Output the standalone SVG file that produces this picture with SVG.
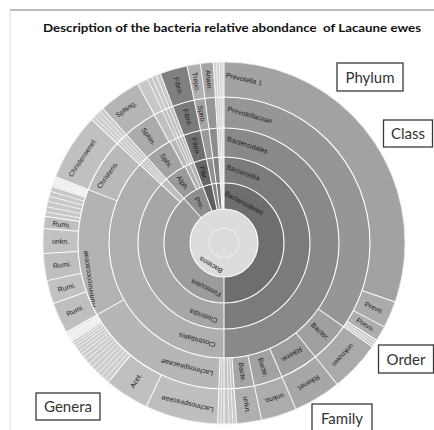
<svg xmlns="http://www.w3.org/2000/svg" width="434" height="430" viewBox="0 0 434 430">
<style>
.a{fill:none}
.r1{stroke-width:26px}.r2{stroke-width:26px}.r3{stroke-width:29px}.r4{stroke-width:31px}.r5{stroke-width:35px}
.t{font-family:"Liberation Sans",Arial,sans-serif;font-size:7px;fill:#1c1c1c;text-anchor:middle}
.s{stroke:#fff;stroke-width:1}
.ss{stroke:#fff;stroke-width:0.7}
.ring{fill:none;stroke:#fff;stroke-width:1.1}
.box rect{fill:#fff;stroke:#3a3a3a;stroke-width:1.3}
.box text{font-family:Lato,"Open Sans",sans-serif;font-size:15px;fill:#333;text-anchor:middle}
</style>
<rect width="434" height="430" fill="#fff"/>
<line x1="10" y1="10" x2="434" y2="10" stroke="#7a7a7a" stroke-width="1.2"/>
<line x1="10" y1="10" x2="10" y2="430" stroke="#dadada" stroke-width="1"/>
<text x="43" y="32" font-family="Lato,'Liberation Sans',sans-serif" font-weight="bold" font-size="11.5" fill="#111" textLength="378" lengthAdjust="spacingAndGlyphs">Description of the bacteria relative abondance&#160; of Lacaune ewes</text>

<g id="root-bacteria">
<circle cx="224" cy="243" r="34" fill="#dcdcdc"/>
<circle cx="224" cy="243" r="15" fill="none" stroke="#f4f4f4" stroke-width="1"/>
<text class="t" dy="2.4" transform="translate(211 265) rotate(211)">Bacteria</text>
</g>

<!-- Ring 1: phylum -->
<g id="p-bacteroidetes"><circle class="a r1" cx="224" cy="243" r="47" transform="rotate(-90 224 243)" pathLength="360" stroke="#6e6e6e" stroke-dasharray="180.5 360" stroke-dashoffset="0"/><text class="t" dy="2.4" transform="translate(244 203) rotate(28)">Bacteroidetes</text></g>
<g id="p-firmicutes"><circle class="a r1" cx="224" cy="243" r="47" transform="rotate(-90 224 243)" pathLength="360" stroke="#9c9c9c" stroke-dasharray="138.3 360" stroke-dashoffset="-180"/><text class="t" dy="2.4" transform="translate(206 288) rotate(205)">Firmicutes</text></g>
<g id="p-proteobacteria"><circle class="a r1" cx="224" cy="243" r="47" transform="rotate(-90 224 243)" pathLength="360" stroke="#8e8e8e" stroke-dasharray="21.7 360" stroke-dashoffset="-318"/><text class="t" dy="2.4" transform="translate(199.4 202.9) rotate(58.5)">Pro.</text></g>
<g id="p-fibrobacteres"><circle class="a r1" cx="224" cy="243" r="47" transform="rotate(-90 224 243)" pathLength="360" stroke="#5f5f5f" stroke-dasharray="9.1 360" stroke-dashoffset="-339.4"/></g>
<g id="p-spirochaetes"><circle class="a r1" cx="224" cy="243" r="47" transform="rotate(-90 224 243)" pathLength="360" stroke="#858585" stroke-dasharray="4.6 360" stroke-dashoffset="-348.2"/></g>
<g id="p-tenericutes"><circle class="a r1" cx="224" cy="243" r="47" transform="rotate(-90 224 243)" pathLength="360" stroke="#7a7a7a" stroke-dasharray="4.4 360" stroke-dashoffset="-352.5"/></g>
<g id="p-other"><circle class="a r1" cx="224" cy="243" r="47" transform="rotate(-90 224 243)" pathLength="360" stroke="#b8b8b8" stroke-dasharray="3.4 360" stroke-dashoffset="-356.6"/></g>

<!-- Ring 2: class -->
<g id="c-bacteroidia"><circle class="a r2" cx="224" cy="243" r="73" transform="rotate(-90 224 243)" pathLength="360" stroke="#7b7b7b" stroke-dasharray="180.5 360" stroke-dashoffset="0"/><text class="t" dy="2.4" transform="translate(243 172.5) rotate(20)">Bacteroidia</text></g>
<g id="c-clostridia"><circle class="a r2" cx="224" cy="243" r="73" transform="rotate(-90 224 243)" pathLength="360" stroke="#a6a6a6" stroke-dasharray="133.3 360" stroke-dashoffset="-180"/><text class="t" dy="2.4" transform="translate(203.5 316) rotate(200)">Clostridia</text></g>
<g id="c-firm-other"><circle class="a r2" cx="224" cy="243" r="73" transform="rotate(-90 224 243)" pathLength="360" stroke="#bdbdbd" stroke-dasharray="5.3 360" stroke-dashoffset="-313"/></g>
<g id="c-alpha"><circle class="a r2" cx="224" cy="243" r="73" transform="rotate(-90 224 243)" pathLength="360" stroke="#9a9a9a" stroke-dasharray="15.3 360" stroke-dashoffset="-318"/><text class="t" dy="2.4" transform="translate(182.7 182.8) rotate(55.5)">Alph.</text></g>
<g id="c-proteo-other"><circle class="a r2" cx="224" cy="243" r="73" transform="rotate(-90 224 243)" pathLength="360" stroke="#b0b0b0" stroke-dasharray="6.7 360" stroke-dashoffset="-333"/></g>
<g id="c-fibrobacteria"><circle class="a r2" cx="224" cy="243" r="73" transform="rotate(-90 224 243)" pathLength="360" stroke="#666" stroke-dasharray="9.1 360" stroke-dashoffset="-339.4"/><text class="t" dy="2.4" transform="translate(203.6 172.9) rotate(73.8)">Fibr.</text></g>
<g id="c-spirochaetia"><circle class="a r2" cx="224" cy="243" r="73" transform="rotate(-90 224 243)" pathLength="360" stroke="#8f8f8f" stroke-dasharray="4.6 360" stroke-dashoffset="-348.2"/></g>
<g id="c-mollicutes"><circle class="a r2" cx="224" cy="243" r="73" transform="rotate(-90 224 243)" pathLength="360" stroke="#828282" stroke-dasharray="4.4 360" stroke-dashoffset="-352.5"/></g>
<g id="c-other"><circle class="a r2" cx="224" cy="243" r="73" transform="rotate(-90 224 243)" pathLength="360" stroke="#c0c0c0" stroke-dasharray="3.4 360" stroke-dashoffset="-356.6"/></g>

<!-- Ring 3: order -->
<g id="o-bacteroidales"><circle class="a r3" cx="224" cy="243" r="100.5" transform="rotate(-90 224 243)" pathLength="360" stroke="#898989" stroke-dasharray="180.5 360" stroke-dashoffset="0"/><text class="t" dy="2.4" transform="translate(247.5 145) rotate(18)">Bacteroidales</text></g>
<g id="o-clostridiales"><circle class="a r3" cx="224" cy="243" r="100.5" transform="rotate(-90 224 243)" pathLength="360" stroke="#afafaf" stroke-dasharray="133.3 360" stroke-dashoffset="-180"/><text class="t" dy="2.4" transform="translate(197 340) rotate(196)">Clostridiales</text></g>
<g id="o-firm-other"><circle class="a r3" cx="224" cy="243" r="100.5" transform="rotate(-90 224 243)" pathLength="360" stroke="#c2c2c2" stroke-dasharray="5.3 360" stroke-dashoffset="-313"/></g>
<g id="o-sphingomonadales"><circle class="a r3" cx="224" cy="243" r="100.5" transform="rotate(-90 224 243)" pathLength="360" stroke="#a3a3a3" stroke-dasharray="14.3 360" stroke-dashoffset="-318"/><text class="t" dy="2.4" transform="translate(166.4 160.7) rotate(55)">Sphi.</text></g>
<g id="o-proteo-other"><circle class="a r3" cx="224" cy="243" r="100.5" transform="rotate(-90 224 243)" pathLength="360" stroke="#b8b8b8" stroke-dasharray="7.7 360" stroke-dashoffset="-332"/></g>
<g id="o-fibrobacterales"><circle class="a r3" cx="224" cy="243" r="100.5" transform="rotate(-90 224 243)" pathLength="360" stroke="#6f6f6f" stroke-dasharray="9.1 360" stroke-dashoffset="-339.4"/><text class="t" dy="2.4" transform="translate(196 146.5) rotate(73.8)">Fibro.</text></g>
<g id="o-spirochaetales"><circle class="a r3" cx="224" cy="243" r="100.5" transform="rotate(-90 224 243)" pathLength="360" stroke="#999" stroke-dasharray="4.6 360" stroke-dashoffset="-348.2"/></g>
<g id="o-anaeroplasmatales"><circle class="a r3" cx="224" cy="243" r="100.5" transform="rotate(-90 224 243)" pathLength="360" stroke="#8c8c8c" stroke-dasharray="4.4 360" stroke-dashoffset="-352.5"/></g>
<g id="o-other"><circle class="a r3" cx="224" cy="243" r="100.5" transform="rotate(-90 224 243)" pathLength="360" stroke="#c4c4c4" stroke-dasharray="3.4 360" stroke-dashoffset="-356.6"/></g>

<!-- Ring 4: family -->
<g id="f-prevotellaceae"><circle class="a r4" cx="224" cy="243" r="130.5" transform="rotate(-90 224 243)" pathLength="360" stroke="#969696" stroke-dasharray="125.3 360" stroke-dashoffset="0"/><text class="t" dy="2.4" transform="translate(250 115) rotate(16)">Prevotellaceae</text></g>
<g id="f-bacter"><circle class="a r4" cx="224" cy="243" r="130.5" transform="rotate(-90 224 243)" pathLength="360" stroke="#a0a0a0" stroke-dasharray="16.6 360" stroke-dashoffset="-125"/><text class="t" dy="2.4" transform="translate(320.2 331.2) rotate(42.5)">Bacter.</text></g>
<g id="f-rikenellaceae"><circle class="a r4" cx="224" cy="243" r="130.5" transform="rotate(-90 224 243)" pathLength="360" stroke="#9d9d9d" stroke-dasharray="15.6 360" stroke-dashoffset="-141.3"/><text class="t" dy="2.4" transform="translate(291.2 354.9) rotate(149)">Rikene.</text></g>
<g id="f-bacte-1"><circle class="a r4" cx="224" cy="243" r="130.5" transform="rotate(-90 224 243)" pathLength="360" stroke="#a2a2a2" stroke-dasharray="11.7 360" stroke-dashoffset="-156.6"/><text class="t" dy="2.4" transform="translate(263.2 367.5) rotate(72.5)">Bacte.</text></g>
<g id="f-bacte-2"><circle class="a r4" cx="224" cy="243" r="130.5" transform="rotate(-90 224 243)" pathLength="360" stroke="#a6a6a6" stroke-dasharray="8.3 360" stroke-dashoffset="-168"/><text class="t" dy="2.4" transform="translate(242.2 372.2) rotate(82)">Bacte.</text></g>
<g id="f-other-bottom"><circle class="a r4" cx="224" cy="243" r="130.5" transform="rotate(-90 224 243)" pathLength="360" stroke="#c2c2c2" stroke-dasharray="6.3 360" stroke-dashoffset="-176"/></g>
<g id="f-lachnospiraceae"><circle class="a r4" cx="224" cy="243" r="130.5" transform="rotate(-90 224 243)" pathLength="360" stroke="#b6b6b6" stroke-dasharray="58.8 360" stroke-dashoffset="-182"/><text class="t" dy="2.4" transform="translate(187 367.5) rotate(194)">Lachnospiraceae</text></g>
<g id="f-ruminococcaceae"><circle class="a r4" cx="224" cy="243" r="130.5" transform="rotate(-90 224 243)" pathLength="360" stroke="#b3b3b3" stroke-dasharray="51.3 360" stroke-dashoffset="-240.5"/><text class="t" dy="2.4" transform="translate(89 279) rotate(262)">Ruminococcaceae</text></g>
<g id="f-christensenellaceae"><circle class="a r4" cx="224" cy="243" r="130.5" transform="rotate(-90 224 243)" pathLength="360" stroke="#b9b9b9" stroke-dasharray="21.8 360" stroke-dashoffset="-291.5"/><text class="t" dy="2.4" transform="translate(107.5 175) rotate(305)">Christens.</text></g>
<g id="f-firm-other"><circle class="a r4" cx="224" cy="243" r="130.5" transform="rotate(-90 224 243)" pathLength="360" stroke="#c8c8c8" stroke-dasharray="5.3 360" stroke-dashoffset="-313"/></g>
<g id="f-sphingomonadaceae"><circle class="a r4" cx="224" cy="243" r="130.5" transform="rotate(-90 224 243)" pathLength="360" stroke="#ababab" stroke-dasharray="13.8 360" stroke-dashoffset="-318"/><text class="t" dy="2.4" transform="translate(148.7 136.4) rotate(54.75)">Sphin.</text></g>
<g id="f-proteo-other"><circle class="a r4" cx="224" cy="243" r="130.5" transform="rotate(-90 224 243)" pathLength="360" stroke="#c0c0c0" stroke-dasharray="8.2 360" stroke-dashoffset="-331.5"/></g>
<g id="f-fibrobacteraceae"><circle class="a r4" cx="224" cy="243" r="130.5" transform="rotate(-90 224 243)" pathLength="360" stroke="#7a7a7a" stroke-dasharray="9.1 360" stroke-dashoffset="-339.4"/><text class="t" dy="2.4" transform="translate(187.6 117.7) rotate(73.8)">Fibro.</text></g>
<g id="f-spirochaetaceae"><circle class="a r4" cx="224" cy="243" r="130.5" transform="rotate(-90 224 243)" pathLength="360" stroke="#a5a5a5" stroke-dasharray="4.6 360" stroke-dashoffset="-348.2"/><text class="t" dy="2.4" transform="translate(201.8 114.4) rotate(80.2)">Spiro.</text></g>
<g id="f-anaeroplasmataceae"><circle class="a r4" cx="224" cy="243" r="130.5" transform="rotate(-90 224 243)" pathLength="360" stroke="#969696" stroke-dasharray="4.4 360" stroke-dashoffset="-352.5"/></g>
<g id="f-other-top"><circle class="a r4" cx="224" cy="243" r="130.5" transform="rotate(-90 224 243)" pathLength="360" stroke="#cacaca" stroke-dasharray="3.4 360" stroke-dashoffset="-356.6"/></g>

<!-- Ring 5: genera -->
<g id="g-prevotella1"><circle class="a r5" cx="224" cy="243" r="163.5" transform="rotate(-90 224 243)" pathLength="360" stroke="#a2a2a2" stroke-dasharray="109.3 360" stroke-dashoffset="0"/><text class="t" dy="2.4" transform="translate(244 79) rotate(13)">Prevotella 1</text></g>
<g id="g-prevo-1"><circle class="a r5" cx="224" cy="243" r="163.5" transform="rotate(-90 224 243)" pathLength="360" stroke="#ababab" stroke-dasharray="8.9 360" stroke-dashoffset="-109"/><text class="t" dy="2.4" transform="translate(374.2 307.7) rotate(23.3)">Prevo.</text></g>
<g id="g-prevo-2"><circle class="a r5" cx="224" cy="243" r="163.5" transform="rotate(-90 224 243)" pathLength="360" stroke="#aeaeae" stroke-dasharray="5.2 360" stroke-dashoffset="-117.6"/><text class="t" dy="2.4" transform="translate(365.6 324.75) rotate(30)">Prevo.</text></g>
<g id="g-prevo-other"><circle class="a r5" cx="224" cy="243" r="163.5" transform="rotate(-90 224 243)" pathLength="360" stroke="#c8c8c8" stroke-dasharray="2.8 360" stroke-dashoffset="-122.5"/></g>
<g id="g-unknown"><circle class="a r5" cx="224" cy="243" r="163.5" transform="rotate(-90 224 243)" pathLength="360" stroke="#aaaaaa" stroke-dasharray="16.6 360" stroke-dashoffset="-125"/><text class="t" dy="2.4" transform="translate(342.9 355.2) rotate(133)">unknown</text></g>
<g id="g-rikenel"><circle class="a r5" cx="224" cy="243" r="163.5" transform="rotate(-90 224 243)" pathLength="360" stroke="#a7a7a7" stroke-dasharray="15.6 360" stroke-dashoffset="-141.3"/><text class="t" dy="2.4" transform="translate(308.2 383.1) rotate(149)">Rikenel.</text></g>
<g id="g-unkno"><circle class="a r5" cx="224" cy="243" r="163.5" transform="rotate(-90 224 243)" pathLength="360" stroke="#acacac" stroke-dasharray="11.7 360" stroke-dashoffset="-156.6"/><text class="t" dy="2.4" transform="translate(274 398.7) rotate(162)">unkno.</text></g>
<g id="g-unkn-1"><circle class="a r5" cx="224" cy="243" r="163.5" transform="rotate(-90 224 243)" pathLength="360" stroke="#afafaf" stroke-dasharray="8.3 360" stroke-dashoffset="-168"/><text class="t" dy="2.4" transform="translate(246.8 404.9) rotate(82)">unkn.</text></g>
<g id="g-other-bottom"><circle class="a r5" cx="224" cy="243" r="163.5" transform="rotate(-90 224 243)" pathLength="360" stroke="#cacaca" stroke-dasharray="6.3 360" stroke-dashoffset="-176"/></g>
<g id="g-lachnospiraceae"><circle class="a r5" cx="224" cy="243" r="163.5" transform="rotate(-90 224 243)" pathLength="360" stroke="#bebebe" stroke-dasharray="23.7 360" stroke-dashoffset="-182"/><text class="t" dy="2.4" transform="translate(187.5 404) rotate(193)">Lachnospiraceae</text></g>
<g id="g-acet"><circle class="a r5" cx="224" cy="243" r="163.5" transform="rotate(-90 224 243)" pathLength="360" stroke="#c0c0c0" stroke-dasharray="14.7 360" stroke-dashoffset="-205.4"/><text class="t" dy="2.4" transform="translate(135.9 380.7) rotate(302.6)">Acet.</text></g>
<g id="g-lachno-other"><circle class="a r5" cx="224" cy="243" r="163.5" transform="rotate(-90 224 243)" pathLength="360" stroke="#cdcdcd" stroke-dasharray="17.5 360" stroke-dashoffset="-219.8"/><circle class="a r5" cx="224" cy="243" r="163.5" transform="rotate(-90 224 243)" pathLength="360" stroke="#e6e6e6" stroke-dasharray="3.8 360" stroke-dashoffset="-237"/></g>
<g id="g-rumi-1"><circle class="a r5" cx="224" cy="243" r="163.5" transform="rotate(-90 224 243)" pathLength="360" stroke="#bfbfbf" stroke-dasharray="10.3 360" stroke-dashoffset="-240.5"/><text class="t" dy="2.4" transform="translate(75.1 310.5) rotate(335.6)">Rumi.</text></g>
<g id="g-rumi-2"><circle class="a r5" cx="224" cy="243" r="163.5" transform="rotate(-90 224 243)" pathLength="360" stroke="#c1c1c1" stroke-dasharray="7.8 360" stroke-dashoffset="-250.5"/><text class="t" dy="2.4" transform="translate(66.7 287.5) rotate(344.2)">Rumi.</text></g>
<g id="g-rumi-3"><circle class="a r5" cx="224" cy="243" r="163.5" transform="rotate(-90 224 243)" pathLength="360" stroke="#bfbfbf" stroke-dasharray="9 360" stroke-dashoffset="-258"/><text class="t" dy="2.4" transform="translate(62 264.9) rotate(352.3)">Rumi.</text></g>
<g id="g-unkn-2"><circle class="a r5" cx="224" cy="243" r="163.5" transform="rotate(-90 224 243)" pathLength="360" stroke="#c2c2c2" stroke-dasharray="8.2 360" stroke-dashoffset="-266.7"/><text class="t" dy="2.4" transform="translate(60.5 241.3) rotate(0.6)">unkn.</text></g>
<g id="g-rumi-4"><circle class="a r5" cx="224" cy="243" r="163.5" transform="rotate(-90 224 243)" pathLength="360" stroke="#c0c0c0" stroke-dasharray="4.2 360" stroke-dashoffset="-274.6"/><text class="t" dy="2.4" transform="translate(61.6 224.5) rotate(6.5)">Rumi.</text></g>
<g id="g-rumino-other"><circle class="a r5" cx="224" cy="243" r="163.5" transform="rotate(-90 224 243)" pathLength="360" stroke="#c8c8c8" stroke-dasharray="10 360" stroke-dashoffset="-278.5"/><circle class="a r5" cx="224" cy="243" r="163.5" transform="rotate(-90 224 243)" pathLength="360" stroke="#e6e6e6" stroke-dasharray="3.6 360" stroke-dashoffset="-288.2"/></g>
<g id="g-christensenel"><circle class="a r5" cx="224" cy="243" r="163.5" transform="rotate(-90 224 243)" pathLength="360" stroke="#c0c0c0" stroke-dasharray="21.8 360" stroke-dashoffset="-291.5"/><text class="t" dy="2.4" transform="translate(82.5 157.5) rotate(304)">Christensenel.</text></g>
<g id="g-firm-other"><circle class="a r5" cx="224" cy="243" r="163.5" transform="rotate(-90 224 243)" pathLength="360" stroke="#cdcdcd" stroke-dasharray="5.3 360" stroke-dashoffset="-313"/></g>
<g id="g-sphing"><circle class="a r5" cx="224" cy="243" r="163.5" transform="rotate(-90 224 243)" pathLength="360" stroke="#b5b5b5" stroke-dasharray="13.8 360" stroke-dashoffset="-318"/><text class="t" dy="2.4" transform="translate(126 109) rotate(325)">Sphing.</text></g>
<g id="g-proteo-other"><circle class="a r5" cx="224" cy="243" r="163.5" transform="rotate(-90 224 243)" pathLength="360" stroke="#c8c8c8" stroke-dasharray="8.2 360" stroke-dashoffset="-331.5"/></g>
<g id="g-fibro"><circle class="a r5" cx="224" cy="243" r="163.5" transform="rotate(-90 224 243)" pathLength="360" stroke="#808080" stroke-dasharray="9.1 360" stroke-dashoffset="-339.4"/><text class="t" dy="2.4" transform="translate(178.4 86) rotate(73.8)">Fibro.</text></g>
<g id="g-trepo"><circle class="a r5" cx="224" cy="243" r="163.5" transform="rotate(-90 224 243)" pathLength="360" stroke="#b0b0b0" stroke-dasharray="4.6 360" stroke-dashoffset="-348.2"/><text class="t" dy="2.4" transform="translate(196.2 81.9) rotate(80.2)">Trepo.</text></g>
<g id="g-anaer"><circle class="a r5" cx="224" cy="243" r="163.5" transform="rotate(-90 224 243)" pathLength="360" stroke="#a5a5a5" stroke-dasharray="4.4 360" stroke-dashoffset="-352.5"/><text class="t" dy="2.4" transform="translate(208.9 80.2) rotate(84.7)">Anaer.</text></g>
<g id="g-other-top"><circle class="a r5" cx="224" cy="243" r="163.5" transform="rotate(-90 224 243)" pathLength="360" stroke="#d2d2d2" stroke-dasharray="3.4 360" stroke-dashoffset="-356.6"/></g>

<g id="separators">
<circle class="ring" cx="224" cy="243" r="34"/>
<circle class="ring" cx="224" cy="243" r="60"/>
<circle class="ring" cx="224" cy="243" r="86"/>
<circle class="ring" cx="224" cy="243" r="115"/>
<circle class="ring" cx="224" cy="243" r="146"/>
<circle cx="224" cy="243" r="181" fill="none" stroke="#ececec" stroke-width="0.8"/>
<g class="s">
<line x1="224" y1="209" x2="224" y2="62"/>
<line x1="224" y1="209" x2="224" y2="62" transform="rotate(180 224 243)"/>
<line x1="224" y1="209" x2="224" y2="62" transform="rotate(318 224 243)"/>
<line x1="224" y1="209" x2="224" y2="62" transform="rotate(339.4 224 243)"/>
<line x1="224" y1="209" x2="224" y2="62" transform="rotate(348.2 224 243)"/>
<line x1="224" y1="209" x2="224" y2="62" transform="rotate(352.5 224 243)"/>
<line x1="224" y1="209" x2="224" y2="62" transform="rotate(356.6 224 243)"/>
<line x1="224" y1="183" x2="224" y2="62" transform="rotate(313 224 243)"/>
<line x1="224" y1="183" x2="224" y2="157" transform="rotate(333 224 243)"/>
<line x1="224" y1="157" x2="224" y2="128" transform="rotate(332 224 243)"/>
<line x1="224" y1="128" x2="224" y2="62" transform="rotate(331.5 224 243)"/>
<line x1="224" y1="128" x2="224" y2="62" transform="rotate(291.5 224 243)"/>
<line x1="224" y1="128" x2="224" y2="62" transform="rotate(240.5 224 243)"/>
<line x1="224" y1="128" x2="224" y2="62" transform="rotate(182 224 243)"/>
<line x1="224" y1="128" x2="224" y2="62" transform="rotate(176 224 243)"/>
<line x1="224" y1="128" x2="224" y2="62" transform="rotate(168 224 243)"/>
<line x1="224" y1="128" x2="224" y2="62" transform="rotate(156.6 224 243)"/>
<line x1="224" y1="128" x2="224" y2="62" transform="rotate(141.3 224 243)"/>
<line x1="224" y1="128" x2="224" y2="62" transform="rotate(125 224 243)"/>
<line x1="224" y1="97" x2="224" y2="62" transform="rotate(109 224 243)"/>
<line x1="224" y1="97" x2="224" y2="62" transform="rotate(117.6 224 243)"/>
<line x1="224" y1="97" x2="224" y2="62" transform="rotate(122.5 224 243)"/>
<line x1="224" y1="97" x2="224" y2="62" transform="rotate(205.4 224 243)"/>
<line x1="224" y1="97" x2="224" y2="62" transform="rotate(219.8 224 243)"/>
<line x1="224" y1="97" x2="224" y2="62" transform="rotate(250.5 224 243)"/>
<line x1="224" y1="97" x2="224" y2="62" transform="rotate(258 224 243)"/>
<line x1="224" y1="97" x2="224" y2="62" transform="rotate(266.7 224 243)"/>
<line x1="224" y1="97" x2="224" y2="62" transform="rotate(274.6 224 243)"/>
<line x1="224" y1="97" x2="224" y2="62" transform="rotate(278.5 224 243)"/>
</g>
<g class="ss">
<line x1="224" y1="209" x2="224" y2="62" transform="rotate(357.6 224 243)"/>
<line x1="224" y1="209" x2="224" y2="62" transform="rotate(358.5 224 243)"/>
<line x1="224" y1="209" x2="224" y2="62" transform="rotate(359.3 224 243)"/>
<line x1="224" y1="183" x2="224" y2="62" transform="rotate(336.5 224 243)"/>
<line x1="224" y1="157" x2="224" y2="62" transform="rotate(335 224 243)"/>
<line x1="224" y1="157" x2="224" y2="62" transform="rotate(338 224 243)"/>
<line x1="224" y1="157" x2="224" y2="62" transform="rotate(314.2 224 243)"/>
<line x1="224" y1="157" x2="224" y2="62" transform="rotate(315.4 224 243)"/>
<line x1="224" y1="157" x2="224" y2="62" transform="rotate(316.6 224 243)"/>
<line x1="224" y1="128" x2="224" y2="62" transform="rotate(177.2 224 243)"/>
<line x1="224" y1="128" x2="224" y2="62" transform="rotate(178.4 224 243)"/>
<line x1="224" y1="128" x2="224" y2="62" transform="rotate(181 224 243)"/>
<line x1="224" y1="97" x2="224" y2="62" transform="rotate(123.4 224 243)"/>
<line x1="224" y1="97" x2="224" y2="62" transform="rotate(124.2 224 243)"/>
<line x1="224" y1="97" x2="224" y2="62" transform="rotate(221.2 224 243)"/>
<line x1="224" y1="97" x2="224" y2="62" transform="rotate(222.6 224 243)"/>
<line x1="224" y1="97" x2="224" y2="62" transform="rotate(224 224 243)"/>
<line x1="224" y1="97" x2="224" y2="62" transform="rotate(225.4 224 243)"/>
<line x1="224" y1="97" x2="224" y2="62" transform="rotate(226.8 224 243)"/>
<line x1="224" y1="97" x2="224" y2="62" transform="rotate(228.2 224 243)"/>
<line x1="224" y1="97" x2="224" y2="62" transform="rotate(229.6 224 243)"/>
<line x1="224" y1="97" x2="224" y2="62" transform="rotate(230.9 224 243)"/>
<line x1="224" y1="97" x2="224" y2="62" transform="rotate(232.1 224 243)"/>
<line x1="224" y1="97" x2="224" y2="62" transform="rotate(233.3 224 243)"/>
<line x1="224" y1="97" x2="224" y2="62" transform="rotate(234.4 224 243)"/>
<line x1="224" y1="97" x2="224" y2="62" transform="rotate(235.4 224 243)"/>
<line x1="224" y1="97" x2="224" y2="62" transform="rotate(236.3 224 243)"/>
<line x1="224" y1="97" x2="224" y2="62" transform="rotate(237.1 224 243)"/>
<line x1="224" y1="97" x2="224" y2="62" transform="rotate(237.8 224 243)"/>
<line x1="224" y1="97" x2="224" y2="62" transform="rotate(238.4 224 243)"/>
<line x1="224" y1="97" x2="224" y2="62" transform="rotate(239 224 243)"/>
<line x1="224" y1="97" x2="224" y2="62" transform="rotate(239.6 224 243)"/>
<line x1="224" y1="97" x2="224" y2="62" transform="rotate(279.9 224 243)"/>
<line x1="224" y1="97" x2="224" y2="62" transform="rotate(281.6 224 243)"/>
<line x1="224" y1="97" x2="224" y2="62" transform="rotate(283.3 224 243)"/>
<line x1="224" y1="97" x2="224" y2="62" transform="rotate(285 224 243)"/>
<line x1="224" y1="97" x2="224" y2="62" transform="rotate(286.6 224 243)"/>
<line x1="224" y1="97" x2="224" y2="62" transform="rotate(288.2 224 243)"/>
<line x1="224" y1="97" x2="224" y2="62" transform="rotate(288.9 224 243)"/>
<line x1="224" y1="97" x2="224" y2="62" transform="rotate(289.5 224 243)"/>
<line x1="224" y1="97" x2="224" y2="62" transform="rotate(290.1 224 243)"/>
<line x1="224" y1="97" x2="224" y2="62" transform="rotate(290.7 224 243)"/>
</g>
</g>

<g id="legend-phylum" class="box"><rect x="337" y="63" width="66" height="28"/><text x="370" y="82.5">Phylum</text></g>
<g id="legend-class" class="box"><rect x="383.5" y="120" width="49" height="27"/><text x="408" y="139">Class</text></g>
<g id="legend-order" class="box"><rect x="378.5" y="345" width="55" height="28"/><text x="406" y="364.5">Order</text></g>
<g id="legend-family" class="box"><rect x="312" y="404" width="60" height="30"/><text x="342" y="423.5">Family</text></g>
<g id="legend-genera" class="box"><rect x="36" y="393" width="64" height="27"/><text x="68" y="412">Genera</text></g>
</svg>
